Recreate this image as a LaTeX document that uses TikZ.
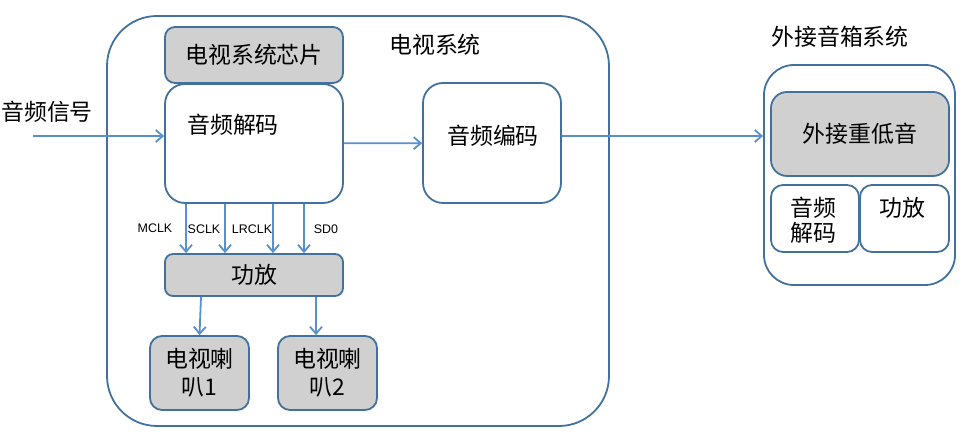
\documentclass[tikz,border=0pt]{standalone}
\usepackage{fontspec}
\setmainfont{Liberation Sans}
\newfontfamily\cjk{Noto Sans CJK SC}
\usetikzlibrary{arrows.meta}
\definecolor{boxline}{RGB}{65,113,156}
\definecolor{arrowline}{RGB}{88,143,205}
\definecolor{boxfill}{RGB}{208,208,208}
\tikzset{
  blk/.style={draw=boxline,line width=1.8bp,rectangle,inner sep=0pt,align=center,font=\cjk\fontsize{23}{28}\selectfont},
  gblk/.style={blk,fill=boxfill},
  txt/.style={inner sep=0pt,align=center,font=\cjk\fontsize{23}{26}\selectfont},
  sig/.style={inner sep=0pt,font=\fontsize{12.5}{14}\selectfont},
  link/.style={draw=arrowline,line width=1.8bp,-{Straight Barb[length=7bp,width=12bp]}}
}
\begin{document}
\begin{tikzpicture}
  \useasboundingbox (0bp,0bp) rectangle (967bp,435bp);
  % tv system
  \node (TV) at (358bp,214bp) [blk,minimum width=502bp,minimum height=410bp,rounded corners=50bp] {};
  \node (TVname) at (435bp,390bp) [txt] {电视系统};
  \node (Chip) at (254bp,380bp) [gblk,minimum width=178bp,minimum height=56bp,rounded corners=10bp] {电视系统芯片};
  \node (Dec) at (254bp,291.5bp) [blk,fill=white,minimum width=178bp,minimum height=119bp,rounded corners=20bp] {};
  \node (DecName) at (233bp,310bp) [txt] {音频解码};
  \node (Enc) at (492bp,292bp) [blk,minimum width=138bp,minimum height=120bp,rounded corners=20bp] {};
  \node (EncName) at (493bp,299bp) [txt] {音频编码};
  \node (Amp) at (254bp,160bp) [gblk,minimum width=178bp,minimum height=42bp,rounded corners=8bp] {功放};
  \node (Spk1) at (199.5bp,62bp) [gblk,minimum width=99bp,minimum height=74bp,rounded corners=12bp] {电视喇\\叭1};
  \node (Spk2) at (327.5bp,62bp) [gblk,minimum width=99bp,minimum height=74bp,rounded corners=12bp] {电视喇\\叭2};
  % external speaker system
  \node (Ext) at (859.5bp,260bp) [blk,minimum width=191bp,minimum height=220bp,rounded corners=30bp] {};
  \node (ExtName) at (840bp,398bp) [txt] {外接音箱系统};
  \node (Sub) at (860bp,301bp) [gblk,minimum width=178bp,minimum height=84bp,rounded corners=16bp] {外接重低音};
  \node (ExtDec) at (815bp,216.5bp) [blk,minimum width=88bp,minimum height=67bp,rounded corners=12bp] {};
  \node (ExtDecName) at (813bp,215bp) [txt,font=\cjk\fontsize{23}{25}\selectfont] {音频\\解码};
  \node (ExtAmp) at (904.5bp,216.5bp) [blk,minimum width=89bp,minimum height=67bp,rounded corners=12bp] {};
  \node (ExtAmpName) at (902bp,227bp) [txt] {功放};
  % input
  \node (In) at (47bp,323bp) [txt] {音频信号};
  \coordinate (InEnd) at (33bp,299bp);
  \draw [link] (InEnd) -- (InEnd -| Dec.west);
  \draw [link] (Dec) -- (Enc);
  \draw [link] (Enc.east |- InEnd) -- (InEnd -| Ext.west);
  % i2s lines
  \foreach \dx in {-68,-29,19,50}
    \draw [link] ([xshift=\dx bp]Dec.south) -- ([xshift=\dx bp]Amp.north);
  \node (MCLK) at (155bp,207bp) [sig] {MCLK};
  \node (SCLK) at (204bp,206bp) [sig] {SCLK};
  \node (LRCLK) at (252bp,206bp) [sig] {LRCLK};
  \node (SD0) at (326bp,206bp) [sig] {SD0};
  \draw [link] ([xshift=-53bp]Amp.south) -- (Spk1.north);
  \draw [link] ([xshift=62bp]Amp.south) -- ([xshift=62bp]Amp.south |- Spk2.north);
\end{tikzpicture}
\end{document}
